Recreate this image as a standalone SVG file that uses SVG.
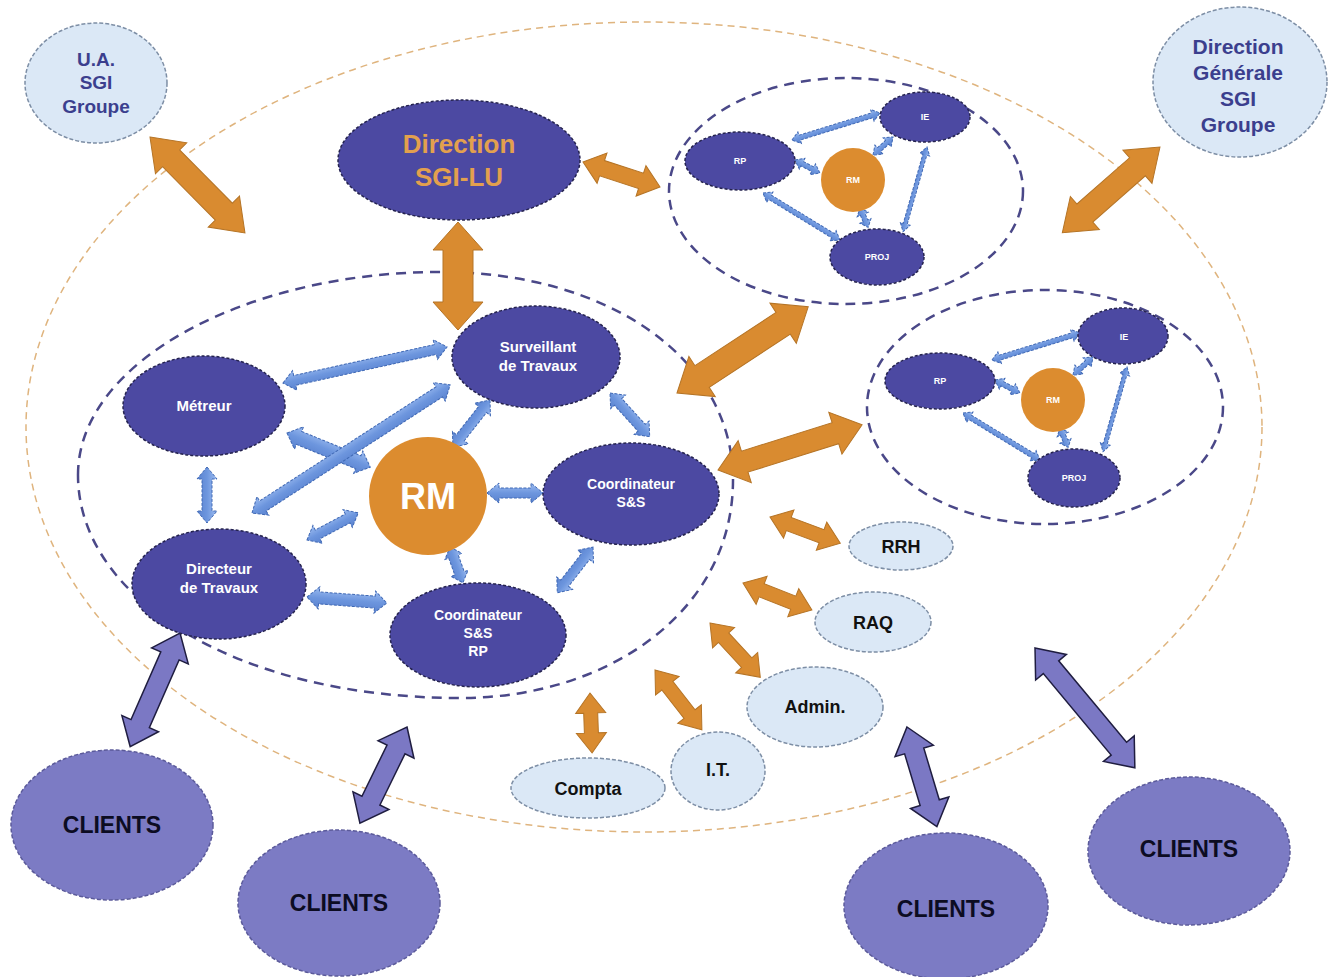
<svg xmlns="http://www.w3.org/2000/svg" width="1331" height="977" viewBox="0 0 1331 977">
<defs>
<linearGradient id="gBlue" x1="0" y1="0" x2="0" y2="1">
<stop offset="0" stop-color="#9dbcf0"/>
<stop offset="0.5" stop-color="#6d96de"/>
<stop offset="1" stop-color="#5a82cf"/>
</linearGradient>
<style>
.bg{fill:#ffffff}
.outer{fill:none;stroke:#dfb47e;stroke-width:1.5;stroke-dasharray:7 5}
.group{fill:none;stroke:#4a4888;stroke-width:2.5;stroke-dasharray:10 7}
.navy{fill:#4c49a2;stroke:#25234f;stroke-width:1.5;stroke-dasharray:3 2}
.rm{fill:#dc8c2f;stroke:none}
.light{fill:#dbe8f6;stroke:#7d8ea5;stroke-width:1.5;stroke-dasharray:4 2}
.client{fill:#7c7bc4;stroke:#5b5a9a;stroke-width:1.5;stroke-dasharray:4 2}
.oa{fill:#d98b30;stroke:#b57426;stroke-width:1}
.pa{fill:#7b78c4;stroke:#1f1d40;stroke-width:1.5}
.ba{fill:url(#gBlue);stroke:#3f68b4;stroke-width:1;stroke-dasharray:3 1.5}
text{font-family:"Liberation Sans",Arial,sans-serif;font-weight:bold;text-anchor:middle}
.tw{fill:#ffffff;font-size:15px}
.tws{fill:#ffffff;font-size:9px}
.tdark{fill:#3b3f8e;font-size:19px}
.tblack{fill:#111111;font-size:19px}
.tcli{fill:#0c0c22;font-size:23px}
.tor{fill:#e3a04e;font-size:26px}
</style>
</defs>
<rect class="bg" x="0" y="0" width="1331" height="977"/>

<!-- containers -->
<g id="containers">
<ellipse class="outer" cx="644" cy="427" rx="618" ry="405"/>
<path class="group" d="M78,475 C78,360 250,272 440,272 C610,272 733,360 733,480 C733,610 610,698 460,698 C240,698 78,600 78,475 Z"/>
<ellipse class="group" cx="846" cy="191" rx="177" ry="113"/>
<ellipse class="group" cx="1045" cy="407" rx="178" ry="117"/>
</g>

<!-- connectors -->
<g id="connectors">
<!-- orange -->
<polygon class="oa" transform="translate(150,137) rotate(45.3)" points="0,0 30,-22 30,-12 105,-12 105,-22 135,0 105,22 105,12 30,12 30,22"/>
<polygon class="oa" transform="translate(458,222) rotate(90)" points="0,0 28,-25 28,-15 80,-15 80,-25 108,0 80,25 80,15 28,15 28,25"/>
<polygon class="oa" transform="translate(583,162) rotate(18)" points="0,0 20,-16 20,-8 61,-8 61,-16 81,0 61,16 61,8 20,8 20,16"/>
<polygon class="oa" transform="translate(1160,147) rotate(138.7)" points="0,0 30,-22 30,-12 100,-12 100,-22 130,0 100,22 100,12 30,12 30,22"/>
<polygon class="oa" transform="translate(677,393) rotate(-33.3)" points="0,0 30,-24 30,-13 127,-13 127,-24 157,0 127,24 127,13 30,13 30,24"/>
<polygon class="oa" transform="translate(718,470) rotate(-17.4)" points="0,0 28,-22 28,-11 123,-11 123,-22 151,0 123,22 123,11 28,11 28,22"/>
<polygon class="oa" transform="translate(770,517) rotate(20.4)" points="0,0 20,-15 20,-7 55,-7 55,-15 75,0 55,15 55,7 20,7 20,15"/>
<polygon class="oa" transform="translate(743,583) rotate(21.4)" points="0,0 20,-15 20,-7 54,-7 54,-15 74,0 54,15 54,7 20,7 20,15"/>
<polygon class="oa" transform="translate(710,623) rotate(47.2)" points="0,0 20,-15 20,-7 54,-7 54,-15 74,0 54,15 54,7 20,7 20,15"/>
<polygon class="oa" transform="translate(655,670) rotate(51.9)" points="0,0 20,-15 20,-7 56,-7 56,-15 76,0 56,15 56,7 20,7 20,15"/>
<polygon class="oa" transform="translate(590,693) rotate(88)" points="0,0 20,-15 20,-7 40,-7 40,-15 60,0 40,15 40,7 20,7 20,15"/>
<!-- purple -->
<polygon class="pa" transform="translate(180,633) rotate(113.7)" points="0,0 25,-20 25,-10 99,-10 99,-20 124,0 99,20 99,10 25,10 25,20"/>
<polygon class="pa" transform="translate(407,727) rotate(116.1)" points="0,0 25,-20 25,-10 82,-10 82,-20 107,0 82,20 82,10 25,10 25,20"/>
<polygon class="pa" transform="translate(907,727) rotate(73.3)" points="0,0 25,-20 25,-10 79,-10 79,-20 104,0 79,20 79,10 25,10 25,20"/>
<polygon class="pa" transform="translate(1035,648) rotate(50.2)" points="0,0 25,-20 25,-10 131,-10 131,-20 156,0 131,20 131,10 25,10 25,20"/>
<!-- blue, left cluster -->
<polygon class="ba" transform="translate(283,383) rotate(-12.4)" points="0,0 12,-10 12,-5 156,-5 156,-10 168,0 156,10 156,5 12,5 12,10"/>
<polygon class="ba" transform="translate(287,433) rotate(22.3)" points="0,0 13,-12 13,-7 77,-7 77,-12 90,0 77,12 77,7 13,7 13,12"/>
<polygon class="ba" transform="translate(252,513) rotate(-32.9)" points="0,0 13,-11 13,-6 223,-6 223,-11 236,0 223,11 223,6 13,6 13,11"/>
<polygon class="ba" transform="translate(207,467) rotate(90)" points="0,0 12,-10 12,-5 44,-5 44,-10 56,0 44,10 44,5 12,5 12,10"/>
<polygon class="ba" transform="translate(307,540) rotate(-27.9)" points="0,0 12,-10 12,-5 46,-5 46,-10 58,0 46,10 46,5 12,5 12,10"/>
<polygon class="ba" transform="translate(307,597) rotate(4.3)" points="0,0 12,-11 12,-6 68,-6 68,-11 80,0 68,11 68,6 12,6 12,11"/>
<polygon class="ba" transform="translate(490,400) rotate(128.2)" points="0,0 12,-10 12,-5 48,-5 48,-10 60,0 48,10 48,5 12,5 12,10"/>
<polygon class="ba" transform="translate(610,393) rotate(47.7)" points="0,0 12,-10 12,-5 47,-5 47,-10 59,0 47,10 47,5 12,5 12,10"/>
<polygon class="ba" transform="translate(487,493) rotate(0)" points="0,0 12,-10 12,-5 44,-5 44,-10 56,0 44,10 44,5 12,5 12,10"/>
<polygon class="ba" transform="translate(450,547) rotate(70.1)" points="0,0 10,-9 10,-5 28,-5 28,-9 38,0 28,9 28,5 10,5 10,9"/>
<polygon class="ba" transform="translate(593,547) rotate(128)" points="0,0 12,-10 12,-5 46,-5 46,-10 58,0 46,10 46,5 12,5 12,10"/>
<!-- blue, top-right cluster -->
<g id="cl1-links">
<polygon class="ba" transform="translate(792,140) rotate(-17.1)" points="0,0 8,-6 8,-2.5 84,-2.5 84,-6 92,0 84,6 84,2.5 8,2.5 8,6"/>
<polygon class="ba" transform="translate(795,160) rotate(27.5)" points="0,0 8,-6 8,-2.5 20,-2.5 20,-6 28,0 20,6 20,2.5 8,2.5 8,6"/>
<polygon class="ba" transform="translate(873,155) rotate(-42)" points="0,0 8,-6 8,-2.5 19,-2.5 19,-6 27,0 19,6 19,2.5 8,2.5 8,6"/>
<polygon class="ba" transform="translate(860,208) rotate(67.2)" points="0,0 7,-6 7,-2.5 14,-2.5 14,-6 21,0 14,6 14,2.5 7,2.5 7,6"/>
<polygon class="ba" transform="translate(763,193) rotate(31.4)" points="0,0 8,-6 8,-2.5 82,-2.5 82,-6 90,0 82,6 82,2.5 8,2.5 8,6"/>
<polygon class="ba" transform="translate(927,147) rotate(105.8)" points="0,0 8,-5 8,-2 80,-2 80,-5 88,0 80,5 80,2 8,2 8,5"/>
</g>
<!-- blue, right cluster -->
<g id="cl2-links" transform="translate(200,220)">
<polygon class="ba" transform="translate(792,140) rotate(-17.1)" points="0,0 8,-6 8,-2.5 84,-2.5 84,-6 92,0 84,6 84,2.5 8,2.5 8,6"/>
<polygon class="ba" transform="translate(795,160) rotate(27.5)" points="0,0 8,-6 8,-2.5 20,-2.5 20,-6 28,0 20,6 20,2.5 8,2.5 8,6"/>
<polygon class="ba" transform="translate(873,155) rotate(-42)" points="0,0 8,-6 8,-2.5 19,-2.5 19,-6 27,0 19,6 19,2.5 8,2.5 8,6"/>
<polygon class="ba" transform="translate(860,208) rotate(67.2)" points="0,0 7,-6 7,-2.5 14,-2.5 14,-6 21,0 14,6 14,2.5 7,2.5 7,6"/>
<polygon class="ba" transform="translate(763,193) rotate(31.4)" points="0,0 8,-6 8,-2.5 82,-2.5 82,-6 90,0 82,6 82,2.5 8,2.5 8,6"/>
<polygon class="ba" transform="translate(927,147) rotate(105.8)" points="0,0 8,-5 8,-2 80,-2 80,-5 88,0 80,5 80,2 8,2 8,5"/>
</g>
</g>

<!-- nodes -->
<g id="ua-sgi"><ellipse class="light" cx="96" cy="83" rx="71" ry="60"/>
<text class="tdark" x="96" y="66">U.A.</text><text class="tdark" x="96" y="89">SGI</text><text class="tdark" x="96" y="113">Groupe</text></g>

<g id="dg-sgi"><ellipse class="light" cx="1240" cy="82" rx="87" ry="75"/>
<text class="tdark" x="1238" y="54" style="font-size:21px">Direction</text><text class="tdark" x="1238" y="80" style="font-size:21px">Générale</text><text class="tdark" x="1238" y="106" style="font-size:21px">SGI</text><text class="tdark" x="1238" y="132" style="font-size:21px">Groupe</text></g>

<g id="direction-sgi-lu"><ellipse class="navy" cx="459" cy="160" rx="121" ry="60"/>
<text class="tor" x="459" y="153">Direction</text><text class="tor" x="459" y="186">SGI-LU</text></g>

<g id="metreur"><ellipse class="navy" cx="204" cy="406" rx="81" ry="50"/>
<text class="tw" x="204" y="411">Métreur</text></g>

<g id="surveillant"><ellipse class="navy" cx="536" cy="357" rx="84" ry="51"/>
<text class="tw" x="538" y="352">Surveillant</text><text class="tw" x="538" y="371">de Travaux</text></g>

<g id="directeur"><ellipse class="navy" cx="219" cy="584" rx="87" ry="55"/>
<text class="tw" x="219" y="574">Directeur</text><text class="tw" x="219" y="593">de Travaux</text></g>

<g id="rm-main"><circle class="rm" cx="428" cy="496" r="59"/>
<text x="428" y="509" style="fill:#ffffff;font-size:36px">RM</text></g>

<g id="coord-ss"><ellipse class="navy" cx="631" cy="494" rx="88" ry="51"/>
<text class="tw" x="631" y="489" style="font-size:14px">Coordinateur</text><text class="tw" x="631" y="507" style="font-size:14px">S&amp;S</text></g>

<g id="coord-ss-rp"><ellipse class="navy" cx="478" cy="635" rx="88" ry="52"/>
<text class="tw" x="478" y="620" style="font-size:14px">Coordinateur</text><text class="tw" x="478" y="638" style="font-size:14px">S&amp;S</text><text class="tw" x="478" y="656" style="font-size:14px">RP</text></g>

<!-- top-right cluster -->
<g id="c1-rp"><ellipse class="navy" cx="740" cy="161" rx="55" ry="29"/><text class="tws" x="740" y="164">RP</text></g>
<g id="c1-ie"><ellipse class="navy" cx="925" cy="117" rx="45" ry="25"/><text class="tws" x="925" y="120">IE</text></g>
<g id="c1-rm"><circle class="rm" cx="853" cy="180" r="32"/><text class="tws" x="853" y="183">RM</text></g>
<g id="c1-proj"><ellipse class="navy" cx="877" cy="257" rx="47" ry="28"/><text class="tws" x="877" y="260">PROJ</text></g>

<!-- right cluster -->
<g id="c2-rp"><ellipse class="navy" cx="940" cy="381" rx="55" ry="28"/><text class="tws" x="940" y="384">RP</text></g>
<g id="c2-ie"><ellipse class="navy" cx="1123" cy="336" rx="45" ry="28"/><text class="tws" x="1124" y="340">IE</text></g>
<g id="c2-rm"><circle class="rm" cx="1053" cy="400" r="32"/><text class="tws" x="1053" y="403">RM</text></g>
<g id="c2-proj"><ellipse class="navy" cx="1074" cy="478" rx="46" ry="29"/><text class="tws" x="1074" y="481">PROJ</text></g>

<!-- support functions -->
<g id="rrh"><ellipse class="light" cx="901" cy="546" rx="52" ry="24"/><text class="tblack" x="901" y="553" style="font-size:18px">RRH</text></g>
<g id="raq"><ellipse class="light" cx="873" cy="622" rx="58" ry="30"/><text class="tblack" x="873" y="629" style="font-size:18px">RAQ</text></g>
<g id="admin"><ellipse class="light" cx="815" cy="707" rx="68" ry="40"/><text class="tblack" x="815" y="713" style="font-size:18px">Admin.</text></g>
<g id="it"><ellipse class="light" cx="718" cy="771" rx="47" ry="39"/><text class="tblack" x="718" y="776" style="font-size:18px">I.T.</text></g>
<g id="compta"><ellipse class="light" cx="588" cy="788" rx="77" ry="30"/><text class="tblack" x="588" y="795" style="font-size:18px">Compta</text></g>

<!-- clients -->
<g id="clients-1"><ellipse class="client" cx="112" cy="825" rx="101" ry="75"/><text class="tcli" x="112" y="833">CLIENTS</text></g>
<g id="clients-2"><ellipse class="client" cx="339" cy="903" rx="101" ry="73"/><text class="tcli" x="339" y="911">CLIENTS</text></g>
<g id="clients-3"><ellipse class="client" cx="946" cy="906" rx="102" ry="73"/><text class="tcli" x="946" y="917">CLIENTS</text></g>
<g id="clients-4"><ellipse class="client" cx="1189" cy="851" rx="101" ry="74"/><text class="tcli" x="1189" y="857">CLIENTS</text></g>
</svg>
